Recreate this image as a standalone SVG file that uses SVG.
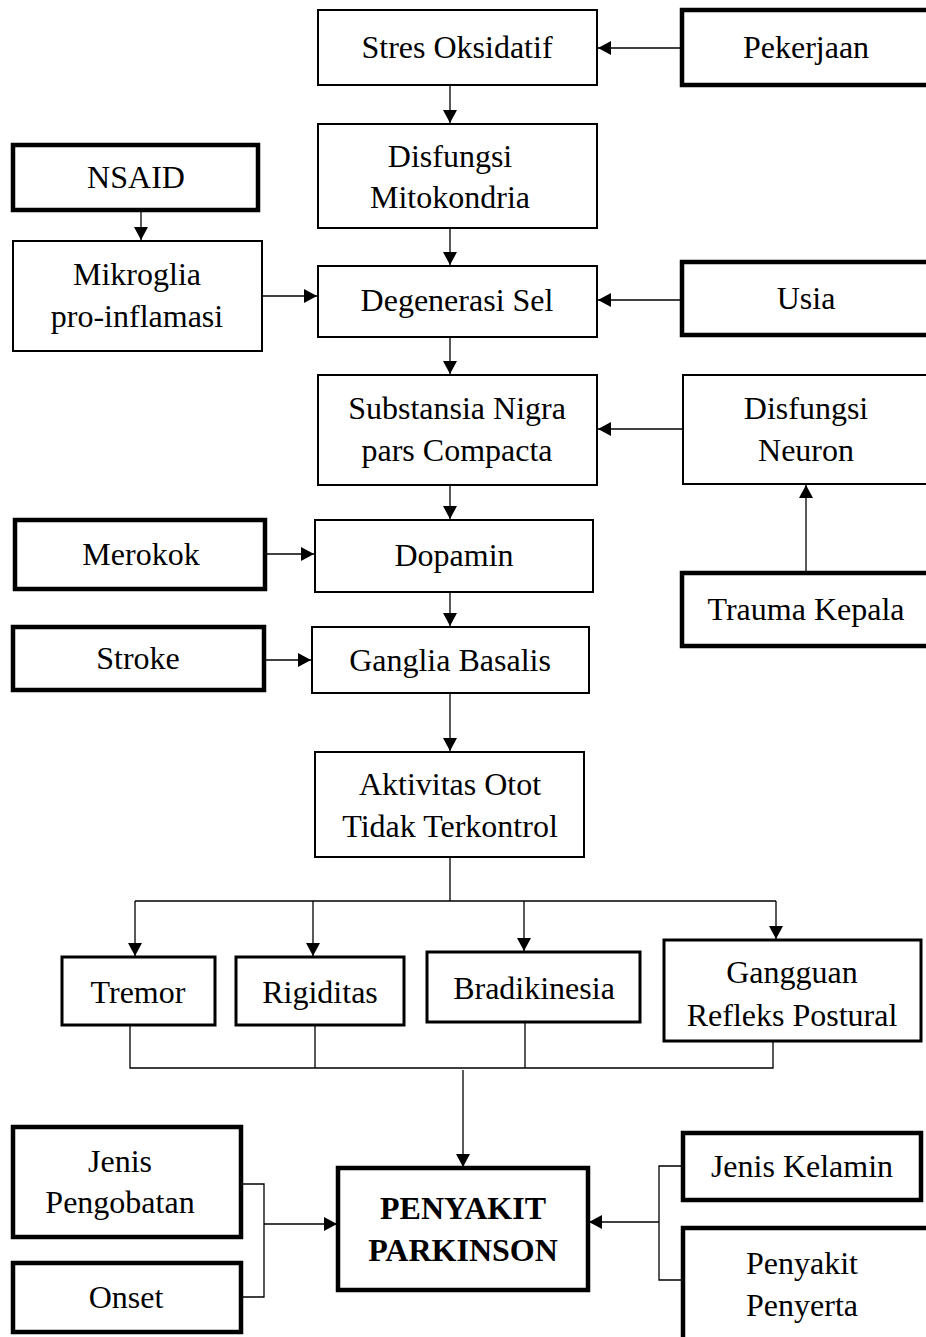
<svg xmlns="http://www.w3.org/2000/svg" width="926" height="1337" viewBox="0 0 926 1337">
<style>
rect{fill:#fff;stroke:#000}
rect.bg{stroke:none}
.n{stroke-width:2}
.m{stroke-width:3}
.k{stroke-width:4.5}
text{font-family:"Liberation Serif","Times New Roman",serif;font-size:32px;fill:#000;text-anchor:middle}
.b{font-weight:bold}
#connectors path{fill:none;stroke:#000;stroke-width:1.3}
</style>
<defs>
<marker id="ah" markerUnits="userSpaceOnUse" markerWidth="14" markerHeight="14" refX="13" refY="7" orient="auto">
<path d="M0,0 L13,7 L0,14 Z" fill="#000"/>
</marker>
</defs>
<rect class="bg" width="926" height="1337"/>
<g id="connectors">
<path d="M682,48 H598" marker-end="url(#ah)"/>
<path d="M450,85 V123" marker-end="url(#ah)"/>
<path d="M450,228 V265" marker-end="url(#ah)"/>
<path d="M141,210 V240" marker-end="url(#ah)"/>
<path d="M262,296 H317" marker-end="url(#ah)"/>
<path d="M682,300 H598" marker-end="url(#ah)"/>
<path d="M450,337 V374" marker-end="url(#ah)"/>
<path d="M683,429 H598" marker-end="url(#ah)"/>
<path d="M806,573 V485" marker-end="url(#ah)"/>
<path d="M450,485 V519" marker-end="url(#ah)"/>
<path d="M265,554 H314" marker-end="url(#ah)"/>
<path d="M450,592 V626" marker-end="url(#ah)"/>
<path d="M258,660 H311" marker-end="url(#ah)"/>
<path d="M450,693 V751" marker-end="url(#ah)"/>
<path d="M450,857 V901 M135,901 H776"/>
<path d="M135,901 V956" marker-end="url(#ah)"/>
<path d="M313,901 V956" marker-end="url(#ah)"/>
<path d="M524,901 V951" marker-end="url(#ah)"/>
<path d="M776,901 V939" marker-end="url(#ah)"/>
<path d="M130,1025 V1068 H773 V1041 M315,1025 V1068 M525,1022 V1068"/>
<path d="M463,1070 V1167" marker-end="url(#ah)"/>
<path d="M241,1184 H264 V1297 H241"/>
<path d="M264,1224 H337" marker-end="url(#ah)"/>
<path d="M683,1166 H659 V1280 H683"/>
<path d="M659,1222 H589" marker-end="url(#ah)"/>
</g>
<g id="stres"><rect class="n" x="318" y="10" width="279" height="75"/><text x="457" y="58">Stres Oksidatif</text></g>
<g id="pekerjaan"><rect class="k" x="682" y="10" width="250" height="75"/><text x="806" y="58">Pekerjaan</text></g>
<g id="mitokondria"><rect class="n" x="318" y="124" width="279" height="104"/><text x="450" y="167">Disfungsi</text><text x="450" y="208">Mitokondria</text></g>
<g id="nsaid"><rect class="k" x="13" y="145" width="245" height="65"/><text x="136" y="188">NSAID</text></g>
<g id="mikroglia"><rect class="n" x="13" y="241" width="249" height="110"/><text x="137" y="285">Mikroglia</text><text x="137" y="327">pro-inflamasi</text></g>
<g id="degenerasi"><rect class="n" x="318" y="266" width="279" height="71"/><text x="457" y="311">Degenerasi Sel</text></g>
<g id="usia"><rect class="k" x="682" y="262" width="250" height="73"/><text x="806" y="309">Usia</text></g>
<g id="substansia"><rect class="n" x="318" y="375" width="279" height="110"/><text x="457" y="419">Substansia Nigra</text><text x="457" y="461">pars Compacta</text></g>
<g id="neuron"><rect class="n" x="683" y="375" width="249" height="109"/><text x="806" y="419">Disfungsi</text><text x="806" y="461">Neuron</text></g>
<g id="merokok"><rect class="k" x="15" y="520" width="250" height="69"/><text x="141" y="565">Merokok</text></g>
<g id="dopamin"><rect class="n" x="315" y="520" width="278" height="72"/><text x="454" y="566">Dopamin</text></g>
<g id="trauma"><rect class="k" x="682" y="573" width="250" height="73"/><text x="806" y="620">Trauma Kepala</text></g>
<g id="stroke"><rect class="k" x="13" y="627" width="251" height="63"/><text x="138" y="669">Stroke</text></g>
<g id="ganglia"><rect class="n" x="312" y="627" width="277" height="66"/><text x="450" y="671">Ganglia Basalis</text></g>
<g id="aktivitas"><rect class="n" x="315" y="752" width="269" height="105"/><text x="450" y="795">Aktivitas Otot</text><text x="450" y="837">Tidak Terkontrol</text></g>
<g id="tremor"><rect class="m" x="62" y="957" width="153" height="68"/><text x="138" y="1003">Tremor</text></g>
<g id="rigiditas"><rect class="m" x="236" y="957" width="168" height="68"/><text x="320" y="1003">Rigiditas</text></g>
<g id="bradikinesia"><rect class="m" x="427" y="952" width="213" height="70"/><text x="534" y="999">Bradikinesia</text></g>
<g id="gangguan"><rect class="m" x="664" y="940" width="257" height="101"/><text x="792" y="983">Gangguan</text><text x="792" y="1026">Refleks Postural</text></g>
<g id="pengobatan"><rect class="k" x="13" y="1127" width="228" height="110"/><text x="120" y="1172">Jenis</text><text x="120" y="1213">Pengobatan</text></g>
<g id="onset"><rect class="k" x="13" y="1263" width="228" height="69"/><text x="126" y="1308">Onset</text></g>
<g id="parkinson"><rect class="k" x="338" y="1168" width="250" height="122"/><text class="b" x="463" y="1219">PENYAKIT</text><text class="b" x="463" y="1261">PARKINSON</text></g>
<g id="kelamin"><rect class="k" x="683" y="1133" width="238" height="67"/><text x="802" y="1177">Jenis Kelamin</text></g>
<g id="penyerta"><rect class="k" x="683" y="1228" width="249" height="115"/><text x="802" y="1274">Penyakit</text><text x="802" y="1316">Penyerta</text></g>
</svg>
